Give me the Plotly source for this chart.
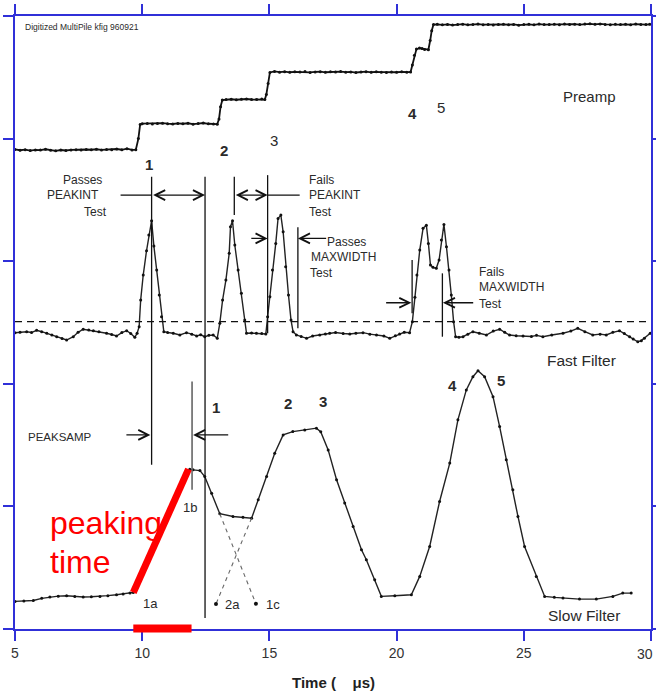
import plotly.graph_objects as go

# ---------------- signal data (time in microseconds, arbitrary vertical units) ----------------
preamp_t = [5.0, 5.2, 5.4, 5.6, 5.8, 6.0, 6.2, 6.4, 6.6, 6.8, 7.0, 7.2, 7.4, 7.6, 7.8, 8.0, 8.2, 8.4,
            8.6, 8.8, 9.0, 9.2, 9.4, 9.6, 9.75, 9.85, 9.92,
            10.0, 10.2, 10.4, 10.6, 10.8, 11.0, 11.2, 11.4, 11.6, 11.8, 12.0, 12.2, 12.4, 12.6, 12.8, 12.95,
            13.02, 13.08, 13.15,
            13.3, 13.5, 13.7, 13.9, 14.1, 14.3, 14.5, 14.7, 14.82, 14.88, 14.95, 15.02,
            15.2, 15.4, 15.6, 15.8, 16.0, 16.2, 16.4, 16.6, 16.8, 17.0, 17.2, 17.4, 17.6, 17.8, 18.0,
            18.2, 18.4, 18.6, 18.8, 19.0, 19.2, 19.4, 19.6, 19.8, 20.0, 20.2, 20.4, 20.55,
            20.62, 20.7, 20.78, 20.9, 21.0, 21.1, 21.25, 21.32, 21.38, 21.45,
            21.6, 21.8, 22.0, 22.2, 22.4, 22.6, 22.8, 23.0, 23.2, 23.4, 23.6, 23.8, 24.0, 24.2, 24.4,
            24.6, 24.8, 25.0, 25.2, 25.4, 25.6, 25.8, 26.0, 26.2, 26.4, 26.6, 26.8, 27.0, 27.2, 27.4,
            27.6, 27.8, 28.0, 28.2, 28.4, 28.6, 28.8, 29.0, 29.2, 29.4, 29.6, 29.8, 29.95]
preamp_v = [3.912, 3.905, 3.910, 3.902, 3.908, 3.906, 3.913, 3.904, 3.900, 3.907, 3.903, 3.908, 3.910,
            3.906, 3.911, 3.909, 3.913, 3.908, 3.912, 3.910, 3.915, 3.909, 3.918, 3.908, 3.910, 4.000, 4.115,
            4.122, 4.124, 4.120, 4.123, 4.126, 4.122, 4.119, 4.124, 4.121, 4.125, 4.118, 4.123, 4.127, 4.121,
            4.119, 4.118,
            4.160, 4.260, 4.315,
            4.318, 4.321, 4.317, 4.320, 4.323, 4.319, 4.318, 4.322, 4.318, 4.360, 4.450, 4.540,
            4.548, 4.542, 4.546, 4.541, 4.545, 4.543, 4.547, 4.540, 4.544, 4.546, 4.541, 4.545, 4.543,
            4.547, 4.542, 4.544, 4.539, 4.543, 4.546, 4.541, 4.545, 4.542, 4.540, 4.544, 4.541, 4.545,
            4.542, 4.543,
            4.600, 4.680, 4.730, 4.738, 4.735, 4.727, 4.725, 4.800, 4.880, 4.930,
            4.932, 4.928, 4.931, 4.926, 4.930, 4.933, 4.928, 4.930, 4.934, 4.929, 4.931, 4.927, 4.930,
            4.932, 4.929, 4.931, 4.925, 4.930, 4.932, 4.928, 4.934, 4.930, 4.931, 4.933, 4.929, 4.935,
            4.931, 4.933, 4.930, 4.934, 4.936, 4.932, 4.935, 4.931, 4.929, 4.933, 4.930, 4.932, 4.929,
            4.934, 4.931, 4.930, 4.932]

fast_t = [5.0, 5.2, 5.46, 5.65, 5.85, 6.05, 6.25, 6.45, 6.64, 6.85, 7.03, 7.29, 7.48, 7.68, 7.9, 8.08,
          8.3, 8.6, 8.8, 8.99, 9.2, 9.39, 9.55, 9.71, 9.80,
          9.88, 9.94, 10.04, 10.17, 10.26, 10.37, 10.46, 10.57, 10.67, 10.76, 10.85,
          11.0, 11.22, 11.48, 11.74, 11.95, 12.14, 12.3, 12.46, 12.62, 12.79, 12.95,
          13.05, 13.16, 13.29, 13.42, 13.47, 13.55, 13.64, 13.77, 13.90, 14.03, 14.10,
          14.3, 14.49, 14.7, 14.86,
          14.93, 15.02, 15.12, 15.25, 15.34, 15.45, 15.54, 15.64, 15.75, 15.85, 15.93,
          16.06, 16.25, 16.46, 16.7, 16.98, 17.2, 17.37, 17.6, 17.9, 18.16, 18.4, 18.68, 18.95,
          19.21, 19.5, 19.73, 19.95, 20.12, 20.3, 20.51,
          20.62, 20.72, 20.80, 20.91, 21.04, 21.17, 21.25, 21.33, 21.43, 21.56, 21.67, 21.76, 21.86,
          21.96, 22.06, 22.15, 22.24, 22.32,
          22.45, 22.61, 22.8, 23.0, 23.25, 23.53, 23.8, 24.05, 24.25, 24.44, 24.7, 24.97, 25.3, 25.5,
          25.75, 26.1, 26.54, 26.85, 27.12, 27.4, 27.71, 28.0, 28.24, 28.5, 28.76, 28.95, 29.16,
          29.3, 29.48, 29.62, 29.74, 29.97]
fast_v = [2.417, 2.420, 2.425, 2.418, 2.436, 2.425, 2.412, 2.398, 2.384, 2.370, 2.357, 2.384, 2.420,
          2.445, 2.438, 2.433, 2.425, 2.412, 2.402, 2.390, 2.418, 2.433, 2.410, 2.379, 2.412,
          2.466, 2.683, 2.887, 3.085, 3.213, 3.330, 3.123, 2.928, 2.724, 2.547, 2.425,
          2.418, 2.412, 2.398, 2.417, 2.405, 2.390, 2.400, 2.384, 2.395, 2.398, 2.371,
          2.493, 2.683, 2.846, 3.064, 3.281, 3.330, 3.132, 2.928, 2.738, 2.520, 2.412,
          2.414, 2.412, 2.410, 2.406,
          2.547, 2.710, 2.928, 3.145, 3.349, 3.376, 3.240, 2.955, 2.724, 2.520, 2.425,
          2.398, 2.385, 2.371, 2.390, 2.398, 2.406, 2.412, 2.418, 2.410, 2.406, 2.412, 2.417, 2.405,
          2.398, 2.390, 2.371, 2.392, 2.406, 2.420, 2.417,
          2.507, 2.705, 2.887, 3.091, 3.268, 3.294, 3.145, 2.969, 2.950, 2.942, 3.009, 3.172, 3.300,
          3.118, 2.928, 2.724, 2.507, 2.384,
          2.380, 2.384, 2.405, 2.425, 2.412, 2.398, 2.430, 2.445, 2.420, 2.398, 2.392, 2.390, 2.386,
          2.395, 2.384, 2.398, 2.412, 2.430, 2.453, 2.425, 2.398, 2.405, 2.398, 2.420, 2.433, 2.410,
          2.384, 2.365, 2.343, 2.352, 2.371, 2.412]

slow_t = [5.0, 5.35, 5.72, 6.05, 6.37, 6.7, 7.03, 7.35, 7.68, 8.0, 8.34, 8.65, 8.99, 9.25, 9.52, 9.65,
          10.2, 10.8, 11.4, 11.87, 12.0, 12.27, 12.46, 12.73, 13.05, 13.57, 13.96, 14.30,
          14.56, 14.89, 15.21, 15.54, 15.92, 16.39, 16.85, 17.02, 17.31, 17.64, 17.96, 18.29, 18.62,
          18.81, 19.14, 19.40, 19.93, 20.58, 20.91, 21.30, 21.69, 22.09, 22.41, 22.74, 23.0, 23.20,
          23.46, 23.79, 24.05, 24.31, 24.57, 24.77, 25.03, 25.49, 25.82, 26.2, 26.54, 27.19, 27.85,
          28.50, 28.89, 29.22]
slow_v = [0.225, 0.228, 0.233, 0.250, 0.261, 0.268, 0.271, 0.265, 0.261, 0.263, 0.266, 0.272, 0.279,
          0.285, 0.293, 0.298,
          0.550, 0.820, 1.090, 1.302, 1.298, 1.292, 1.243, 1.108, 0.940, 0.918, 0.911, 0.904,
          1.054, 1.243, 1.434, 1.583, 1.610, 1.624, 1.638, 1.608, 1.461, 1.217, 1.027, 0.836, 0.646,
          0.565, 0.402, 0.266, 0.271, 0.279, 0.429, 0.673, 1.040, 1.353, 1.706, 1.950, 2.058, 2.107,
          2.058, 1.895, 1.651, 1.380, 1.135, 0.918, 0.673, 0.429, 0.266, 0.258, 0.253, 0.244, 0.244,
          0.266, 0.293, 0.293]

threshold = 2.507

# time axis ticks; the last label sits flush against the right edge
time_ticks = [5, 10, 15, 20, 25, 30]
time_labels = ["5", "10", "15", "20", "25", "30"]

# extrapolated slow-filter edges that cross below pulse 1
cross_1c_t = [13.05, 14.47]
cross_1c_v = [0.940, 0.206]
cross_2a_t = [14.30, 12.90]
cross_2a_v = [0.904, 0.204]

# PEAKINT / MAXWIDTH / PEAKSAMP marker lines: (time, bottom, top)
marker_lines = [(10.37, 1.339, 3.688), (12.47, 0.090, 3.688), (13.62, 3.376, 3.688),
                (14.93, 2.412, 3.702), (16.12, 2.453, 3.276), (20.61, 2.575, 3.009),
                (21.80, 2.384, 2.901)]
peaksamp_line = (11.96, 1.135, 2.018)

# peaking time ramp (1a -> 1b) and its projection on the time axis
peaking_start = (9.65, 0.298)
peaking_end = (11.82, 1.304)

BLUE = "#3030d8"
INK = "#111111"
TXT = "#2a2a2a"
FONT = "Liberation Sans, Arial, sans-serif"

fig = go.Figure()

fig.add_trace(go.Scatter(x=preamp_t, y=preamp_v, mode="lines+markers",
                         line=dict(color=INK, width=1.8), marker=dict(size=3, color=INK)))
fig.add_trace(go.Scatter(x=fast_t, y=fast_v, mode="lines+markers",
                         line=dict(color="#222222", width=1.4), marker=dict(size=3, color=INK)))
fig.add_trace(go.Scatter(x=slow_t, y=slow_v, mode="lines+markers",
                         line=dict(color="#222222", width=1.4), marker=dict(size=3, color=INK)))
fig.add_trace(go.Scatter(x=[5, 30], y=[threshold, threshold], mode="lines",
                         line=dict(color=INK, width=1.2, dash="7px,5px")))
for tt, vv in ((cross_1c_t, cross_1c_v), (cross_2a_t, cross_2a_v)):
    fig.add_trace(go.Scatter(x=tt, y=vv, mode="lines",
                             line=dict(color="#666666", width=1.1, dash="4px,4px")))
    fig.add_trace(go.Scatter(x=[tt[-1]], y=[vv[-1]], mode="markers",
                             marker=dict(size=4, color=INK)))

shapes = []
for t, lo, hi in marker_lines:
    shapes.append(dict(type="line", xref="x", yref="y", x0=t, x1=t, y0=lo, y1=hi,
                       line=dict(color=INK, width=1.3)))
shapes.append(dict(type="line", xref="x", yref="y", x0=peaksamp_line[0], x1=peaksamp_line[0],
                   y0=peaksamp_line[1], y1=peaksamp_line[2], line=dict(color="#666666", width=1.6)))
# leader lines toward the PEAKINT captions
shapes.append(dict(type="line", xref="x", yref="y", x0=9.15, x1=10.37, y0=3.539, y1=3.539,
                   line=dict(color=INK, width=1.3)))
shapes.append(dict(type="line", xref="x", yref="y", x0=14.93, x1=16.19, y0=3.539, y1=3.539,
                   line=dict(color=INK, width=1.3)))
# peaking time highlight
shapes.append(dict(type="line", xref="x", yref="y", x0=peaking_start[0], y0=peaking_start[1],
                   x1=peaking_end[0], y1=peaking_end[1], line=dict(color="#ff0000", width=7),
                   layer="above"))
shapes.append(dict(type="line", xref="x", yref="paper", x0=peaking_start[0], x1=11.94,
                   y0=0.001, y1=0.001, line=dict(color="#ff0000", width=8), layer="above"))

annotations = []


def arrow(x_head, y, x_tail, both=False):
    a = dict(x=x_head, y=y, ax=x_tail, ay=y, xref="x", yref="y", axref="x", ayref="y",
             text="", showarrow=True, arrowhead=5, arrowsize=1.5, arrowwidth=1.3,
             arrowcolor=INK, standoff=0, startstandoff=0)
    if both:
        a.update(arrowside="end+start", startarrowhead=5, startarrowsize=1.5)
    annotations.append(a)


arrow(12.47, 3.539, 10.37, both=True)
arrow(14.93, 3.539, 13.62, both=True)
arrow(14.93, 3.186, 14.23)
arrow(16.12, 3.186, 17.29)
arrow(20.58, 2.661, 19.53)
arrow(21.82, 2.661, 23.07)
arrow(10.32, 1.583, 9.32)
arrow(12.0, 1.583, 13.44)


def label(x, y, text, size=12, anchor="center", bold=False, color=TXT, xref="x", yref="y"):
    annotations.append(dict(x=x, y=y, xref=xref, yref=yref, text=f"<b>{text}</b>" if bold else text,
                            showarrow=False, xanchor=anchor, yanchor="middle",
                            font=dict(family=FONT, size=size, color=color)))


label(5.31, 4.91, "Digitized MultiPile kfig 960921", size=8.5, anchor="left")
label(27.57, 4.346, "Preamp", size=15)
label(27.27, 2.189, "Fast Filter", size=15.5)
label(27.38, 0.108, "Slow Filter", size=15.5)

label(7.65, 3.662, "Passes")
label(7.29, 3.537, "PEAKINT")
label(8.18, 3.400, "Test")
label(16.49, 3.662, "Fails", anchor="left")
label(16.49, 3.537, "PEAKINT", anchor="left")
label(16.49, 3.398, "Test", anchor="left")
label(18.05, 3.158, "Passes")
label(17.90, 3.034, "MAXWIDTH")
label(17.06, 2.903, "Test")
label(23.17, 2.914, "Fails", anchor="left")
label(23.17, 2.787, "MAXWIDTH", anchor="left")
label(23.17, 2.651, "Test", anchor="left")
label(6.75, 1.565, "PEAKSAMP", size=11.5)

label(10.26, 3.792, "1", size=15, bold=True)
label(13.22, 3.906, "2", size=15, bold=True)
label(15.17, 3.987, "3", size=15)
label(20.61, 4.207, "4", size=15, bold=True)
label(21.76, 4.256, "5", size=15)
label(12.89, 1.809, "1", size=15, bold=True)
label(15.73, 1.842, "2", size=15, bold=True)
label(17.09, 1.855, "3", size=15, bold=True)
label(22.19, 1.983, "4", size=15, bold=True)
label(24.12, 2.031, "5", size=15, bold=True)
label(11.89, 0.988, "1b", size=13)
label(10.32, 0.206, "1a", size=13)
label(13.56, 0.198, "2a", size=13)
label(15.15, 0.198, "1c", size=13)

label(6.30, 0.863, "peaking", size=32, anchor="left", color="#ff0000")
label(6.30, 0.550, "time", size=32, anchor="left", color="#ff0000")

label(0.5, -0.088, "Time (\u00a0\u00a0\u00a0 \u03bcs)", size=15, bold=True, color="#222222",
      xref="paper", yref="paper")

# right-most tick label, anchored so it ends at the page edge
annotations.append(dict(x=time_ticks[-1], y=0, xref="x", yref="paper", text=time_labels[-1],
                        showarrow=False, xanchor="right", yanchor="top", xshift=4, yshift=-15,
                        font=dict(family=FONT, size=14, color="#333333")))

axis_common = dict(showline=True, linecolor=BLUE, linewidth=1.5, mirror="ticks",
                   ticks="outside", ticklen=10, tickwidth=1.5, tickcolor=BLUE,
                   showgrid=False, zeroline=False, automargin=False)

fig.update_layout(
    width=656, height=694, autosize=False,
    margin=dict(l=15, r=5, t=16, b=65),
    paper_bgcolor="white", plot_bgcolor="white",
    showlegend=False,
    shapes=shapes, annotations=annotations,
    xaxis=dict(range=[5, 30], tickmode="array", tickvals=time_ticks,
               ticktext=time_labels[:-1] + [""], ticklabeloverflow="allow",
               tickfont=dict(family=FONT, size=14, color="#333333"), **axis_common),
    yaxis=dict(range=[0, 5], tickmode="array", tickvals=[0, 1, 2, 3, 4, 5],
               showticklabels=False, **axis_common),
)

fig.write_html("out.html")
